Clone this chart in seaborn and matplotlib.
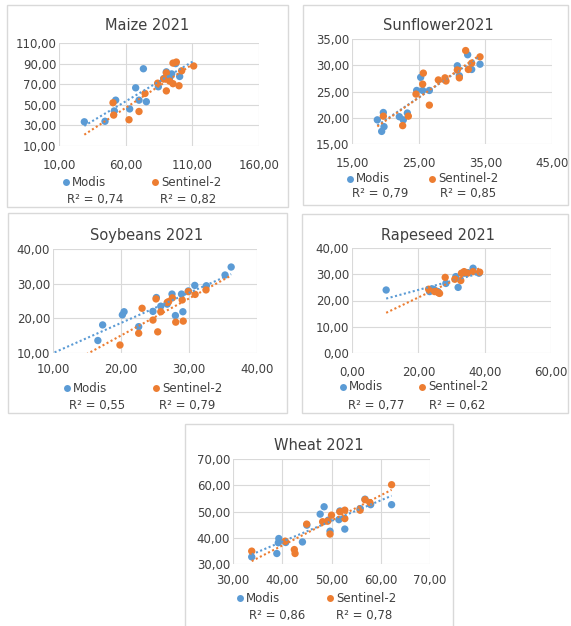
import numpy as np
import pandas as pd
import matplotlib.pyplot as plt
import seaborn as sns
from matplotlib.patches import Rectangle
from matplotlib.lines import Line2D
from matplotlib.ticker import FuncFormatter

# observed yield (x) vs estimated yield (y), per crop and sensor
maize_modis_x = [29, 44.5, 51.5, 52.5, 63, 67.5, 70, 73.3, 75.5, 84.5, 88.5, 90.5, 93, 94.5, 97.5, 100.5]
maize_modis_y = [33.5, 34, 44, 54.5, 46, 66.5, 54.5, 85, 53, 67.5, 75.5, 82, 76, 80, 90, 77.5]
maize_s2_x = [50.5, 51, 62.5, 70, 74.5, 84, 88.5, 90.5, 90.5, 93, 95.5, 95.5, 98, 100, 102, 111]
maize_s2_y = [52, 40, 35.5, 43.5, 61, 71, 75, 63.5, 81, 73, 90.5, 70.5, 91.5, 68.5, 83, 87.7]

sun_modis_x = [18.8, 19.7, 19.8, 19.45, 22.1, 22.7, 23.3, 24.7, 25.6, 26.6, 25.3, 30.8, 31.1, 32.35, 32.95, 34.2]
sun_modis_y = [19.6, 21.0, 18.3, 17.4, 20.2, 19.6, 20.9, 25.2, 25.2, 25.2, 27.7, 29.9, 28.0, 32.0, 29.2, 30.2]
sun_s2_x = [19.7, 22.6, 23.45, 24.6, 25.7, 25.6, 26.6, 27.95, 28.95, 29.1, 30.8, 31.1, 32.05, 32.45, 32.95, 34.2]
sun_s2_y = [20.3, 18.5, 20.3, 24.5, 28.5, 26.4, 22.4, 27.2, 27.6, 27.0, 29.1, 27.6, 32.8, 29.2, 30.4, 31.6]

soy_modis_x = [16.6, 17.3, 20.2, 20.45, 22.6, 24.7, 25.2, 25.85, 26.8, 27.5, 28.0, 28.9, 29.1, 29.9, 30.85, 32.55, 35.3, 36.2]
soy_modis_y = [13.6, 18.1, 21.0, 21.9, 17.6, 22.0, 26.0, 23.5, 24.1, 27.0, 20.8, 27.0, 21.9, 27.9, 29.5, 29.4, 32.5, 34.8]
soy_s2_x = [19.85, 22.6, 23.1, 24.7, 25.15, 25.4, 25.85, 26.8, 27.0, 27.55, 28.05, 29.0, 29.15, 29.9, 30.9, 32.5]
soy_s2_y = [12.3, 15.7, 22.9, 19.5, 25.6, 16.1, 21.9, 24.6, 24.8, 25.9, 18.9, 25.3, 19.2, 27.7, 26.9, 28.2]

rape_modis_x = [10.3, 23.4, 24.2, 24.7, 25.9, 28.3, 31.3, 32.0, 33.8, 35.0, 36.5, 38.3]
rape_modis_y = [24.0, 23.4, 24.4, 24.2, 23.4, 26.5, 29.1, 25.0, 30.4, 30.6, 32.3, 30.4]
rape_s2_x = [23.1, 24.9, 26.0, 26.4, 28.1, 31.0, 32.8, 33.0, 33.8, 34.8, 36.5, 38.5]
rape_s2_y = [24.3, 23.4, 23.0, 22.7, 28.8, 28.1, 27.6, 30.4, 31.0, 30.4, 31.0, 30.8]

wheat_modis_x = [33.8, 38.9, 39.2, 39.3, 40.7, 44.1, 45.0, 47.7, 48.5, 49.35, 49.7, 51.5, 51.7, 52.7, 55.8, 56.8, 57.95, 62.2]
wheat_modis_y = [32.7, 34.0, 38.1, 39.7, 38.2, 38.4, 44.8, 49.0, 51.8, 46.7, 42.5, 46.9, 50.2, 43.3, 51.1, 54.7, 52.6, 52.6]
wheat_s2_x = [33.8, 40.6, 42.45, 42.6, 44.96, 48.2, 49.2, 49.7, 50.0, 51.7, 52.7, 52.7, 55.8, 56.8, 57.8, 62.2]
wheat_s2_y = [34.9, 38.7, 35.5, 34.0, 45.2, 46.1, 46.3, 41.4, 48.6, 49.9, 50.5, 47.3, 50.5, 54.5, 53.4, 60.2]

titles = ["Maize 2021", "Sunflower2021", "Soybeans 2021", "Rapeseed 2021", "Wheat 2021"]
r2_modis = ["0,74", "0,79", "0,55", "0,77", "0,86"]
r2_s2 = ["0,82", "0,85", "0,79", "0,62", "0,78"]
sensors = ["Modis", "Sentinel-2"]

BLUE, ORANGE = "#5B9BD5", "#ED7D31"
GRID, TXT = "#D9D9D9", "#404040"
W, H = 571, 626

# layout in pixels: box, axes, limits, tick step, trend span, title/legend/R2 positions
panels = [
    dict(data=(maize_modis_x, maize_modis_y, maize_s2_x, maize_s2_y),
         box=(7, 5, 288, 207), axes=(59, 43, 259, 146), xlim=(10, 160), xstep=50, ylim=(10, 110), ystep=20,
         span=(29, 111), title=(147, 26), leg_y=182, leg=(66, 155), r2_y=199, r2=(95, 188), xpad=9.5),
    dict(data=(sun_modis_x, sun_modis_y, sun_s2_x, sun_s2_y),
         box=(303, 5, 568, 205), axes=(352, 39, 552, 144), xlim=(15, 45), xstep=10, ylim=(15, 35), ystep=5,
         span=(18.8, 34.2), title=(438, 26), leg_y=179, leg=(350, 432), r2_y=194, r2=(380, 468), xpad=9.5),
    dict(data=(soy_modis_x, soy_modis_y, soy_s2_x, soy_s2_y),
         box=(8, 213, 287, 413), axes=(53, 249, 257, 353), xlim=(10, 40), xstep=10, ylim=(10, 40), ystep=10,
         span=(9, 36.2), title=(147, 235), leg_y=388, leg=(67, 156), r2_y=406, r2=(97, 187), xpad=7),
    dict(data=(rape_modis_x, rape_modis_y, rape_s2_x, rape_s2_y),
         box=(302, 214, 568, 413), axes=(352, 248, 551, 353), xlim=(0, 60), xstep=20, ylim=(0, 40), ystep=10,
         span=(10.3, 38.5), title=(438, 235), leg_y=387, leg=(343, 422), r2_y=405, r2=(376, 457), xpad=9.5),
    dict(data=(wheat_modis_x, wheat_modis_y, wheat_s2_x, wheat_s2_y),
         box=(185, 424, 453, 640), axes=(233, 459, 430, 564), xlim=(30, 70), xstep=10, ylim=(30, 70), ystep=10,
         span=(33.8, 62.2), title=(319, 445), leg_y=598, leg=(240, 330), r2_y=615, r2=(277, 364), xpad=7.5),
]

sns.set_style("white")
plt.rcParams["font.family"] = ["DejaVu Sans"]

fig = plt.figure(figsize=(W / 100, H / 100), dpi=100)
comma = FuncFormatter(lambda v, p: f"{v:.2f}".replace(".", ","))

for i, p in enumerate(panels):
    bx0, by0, bx1, by1 = p["box"]
    fig.add_artist(Rectangle((bx0 / W, 1 - by1 / H), (bx1 - bx0) / W, (by1 - by0) / H,
                             transform=fig.transFigure, fill=False, ec=GRID, lw=1))
    ax0, ay0, ax1, ay1 = p["axes"]
    ax = fig.add_axes([ax0 / W, 1 - ay1 / H, (ax1 - ax0) / W, (ay1 - ay0) / H])

    mx, my, sx, sy = p["data"]
    df = pd.DataFrame({"obs": mx + sx, "est": my + sy,
                       "sensor": [sensors[0]] * len(mx) + [sensors[1]] * len(sx)})
    sns.scatterplot(data=df, x="obs", y="est", hue="sensor", hue_order=sensors,
                    palette=[BLUE, ORANGE], s=28, linewidth=0, legend=False, ax=ax, zorder=3)

    xs = np.linspace(p["span"][0], p["span"][1], 60)
    for name, color in zip(sensors, [BLUE, ORANGE]):
        sub = df[df.sensor == name]
        k, b = np.polyfit(sub.obs, sub.est, 1)
        ax.plot(xs, k * xs + b, ls=(0, (1, 1.2)), lw=1.5, color=color, zorder=4)

    ax.set_xlim(*p["xlim"])
    ax.set_ylim(*p["ylim"])
    ax.set_xticks(np.arange(p["xlim"][0], p["xlim"][1] + 0.1, p["xstep"]))
    ax.set_yticks(np.arange(p["ylim"][0], p["ylim"][1] + 0.1, p["ystep"]))
    ax.xaxis.set_major_formatter(comma)
    ax.yaxis.set_major_formatter(comma)
    ax.grid(True, color=GRID, lw=0.8)
    ax.set_axisbelow(True)
    for s in ax.spines.values():
        s.set_visible(False)
    ax.tick_params(length=0, colors=TXT, labelsize=8.5)
    ax.tick_params(axis="x", pad=p["xpad"])
    ax.tick_params(axis="y", pad=2)
    ax.set_xlabel("")
    ax.set_ylabel("")

    tx, ty = p["title"]
    fig.text(tx / W, 1 - ty / H, titles[i], ha="center", va="center", fontsize=10.5, color=TXT)

    ly = 1 - p["leg_y"] / H
    for lx, name, color in zip(p["leg"], sensors, [BLUE, ORANGE]):
        fig.add_artist(Line2D([lx / W], [ly], marker="o", ms=5, mec="none", mfc=color,
                              transform=fig.transFigure))
        fig.text((lx + 6) / W, ly, name, ha="left", va="center", fontsize=8.5, color=TXT)

    ry = 1 - p["r2_y"] / H
    for rx, val in zip(p["r2"], [r2_modis[i], r2_s2[i]]):
        fig.text(rx / W, ry, f"R² = {val}", ha="center", va="center", fontsize=8.5, color=TXT)

fig.savefig("out.png", dpi=100, facecolor="white")
